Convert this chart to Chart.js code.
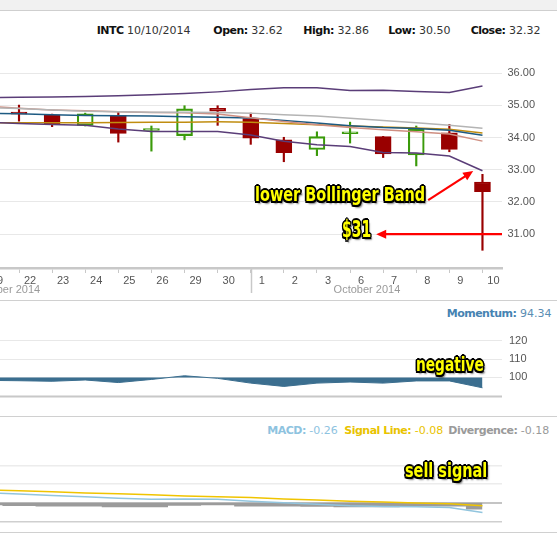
<!DOCTYPE html>
<html>
<head>
<meta charset="utf-8">
<script src="https://cdn.jsdelivr.net/npm/chart.js@4.4.1/dist/chart.umd.min.js"></script>
<style>
  body { margin: 0; width: 557px; height: 535px; background: #fff; position: relative; overflow: hidden;
         font-family: 'DejaVu Sans', Verdana, sans-serif; font-size: 11px; color: #333; }
  .topband { position: absolute; left: 0; top: 0; width: 557px; height: 10px; background: #f1f1f1; border-bottom: 1px solid #cfcfcf; }
  .rule { position: absolute; left: 0; width: 557px; height: 0; border-top: 1px solid #d0d0d0; }
  .hd { position: absolute; white-space: nowrap; line-height: 13px; }
  .hd b { letter-spacing: -0.5px; color: #111; }
  canvas { position: absolute; left: 0; }
  .note { position: absolute; white-space: nowrap; color: #ffff00; line-height: 1; transform-origin: 0 0;
          font-family: 'Liberation Sans Narrow', 'DejaVu Sans Condensed', 'Liberation Sans', sans-serif; font-weight: bold;
          text-shadow: -2px 0 #000, 2px 0 #000, 0 -2px #000, 0 2px #000, -1.5px -1.5px #000, 1.5px -1.5px #000,
                       -1.5px 1.5px #000, 1.5px 1.5px #000, 2.5px 2.5px 2px rgba(0,0,0,0.5); }
</style>
</head>
<body>
<div class="topband"></div>

<div class="hd" style="left:96.7px;top:24px"><b>INTC</b> 10/10/2014</div>
<div class="hd" style="left:213.3px;top:24px"><b>Open:</b> 32.62</div>
<div class="hd" style="left:303.3px;top:24px"><b>High:</b> 32.86</div>
<div class="hd" style="left:388.3px;top:24px"><b>Low:</b> 30.50</div>
<div class="hd" style="left:470.7px;top:24px"><b>Close:</b> 32.32</div>

<canvas id="priceChart" width="557" height="255" style="top:45px"></canvas>

<div class="rule" style="top:300px"></div>
<div class="hd" style="left:446.7px;top:307px;color:#5a8db3"><b style="color:#4683b2">Momentum:</b> 94.34</div>
<canvas id="momentumChart" width="557" height="92" style="top:318px"></canvas>

<div class="rule" style="top:416px"></div>
<div class="hd" style="left:267.3px;top:423.5px;color:#8ec3df"><b style="color:#8ec3df">MACD:</b> -0.26</div>
<div class="hd" style="left:344.3px;top:423.5px;color:#e9c300"><b style="color:#e9c300">Signal Line:</b> -0.08</div>
<div class="hd" style="left:448.3px;top:423.5px;color:#9a9a9a"><b style="color:#9a9a9a">Divergence:</b> -0.18</div>
<canvas id="macdChart" width="557" height="96" style="top:436px"></canvas>
<div class="rule" style="top:532px"></div>

<div class="note" data-w="170" style="left:255px;top:185.4px;font-size:19px">lower Bollinger Band</div>
<div class="note" data-w="29" style="left:342px;top:218.2px;font-size:23px">$31</div>
<div class="note" data-w="68" style="left:416px;top:354px;font-size:20px">negative</div>
<div class="note" data-w="82" style="left:404.7px;top:460.6px;font-size:19px">sell signal</div>

<script>
// trading days, Sept 19 .. Oct 10 2014 (first one is just off the left edge)
const days = ['19', '22', '23', '24', '25', '26', '29', '30', '1', '2', '3', '6', '7', '8', '9', '10'];

// candles from Sept 22
const opens  = [34.78, 34.71, 34.38, 34.69, 34.22, 34.06, 34.91, 34.59, 33.93, 33.63, 34.12, 34.03, 33.46, 34.15, 32.62];
const highs  = [35.01, 34.73, 34.76, 34.79, 34.36, 34.99, 34.99, 34.76, 34.01, 34.18, 34.48, 34.04, 34.36, 34.41, 32.86];
const lows   = [34.51, 34.34, 34.36, 33.86, 33.58, 33.93, 34.38, 33.79, 33.25, 33.44, 33.83, 33.38, 33.12, 33.56, 30.50];
const closes = [34.73, 34.43, 34.74, 34.13, 34.24, 34.89, 34.82, 33.98, 33.53, 34.03, 34.14, 33.49, 34.26, 33.63, 32.32];

// overlays, one value per day in `days`
const upperBand = [35.24, 35.25, 35.26, 35.28, 35.30, 35.33, 35.37, 35.42, 35.49, 35.55, 35.55, 35.46, 35.47, 35.43, 35.40, 35.60];
const lowerBand = [34.48, 34.44, 34.41, 34.38, 34.27, 34.19, 34.19, 34.19, 34.08, 33.89, 33.78, 33.72, 33.54, 33.52, 33.43, 32.97];
const maBlue    = [34.76, 34.74, 34.71, 34.69, 34.68, 34.67, 34.65, 34.63, 34.61, 34.53, 34.45, 34.37, 34.31, 34.28, 34.23, 34.07];
const maGold    = [34.46, 34.46, 34.46, 34.46, 34.47, 34.48, 34.48, 34.49, 34.48, 34.44, 34.40, 34.36, 34.33, 34.30, 34.26, 34.14];
const maSalmon  = [34.98, 34.91, 34.86, 34.83, 34.80, 34.78, 34.77, 34.73, 34.62, 34.50, 34.40, 34.31, 34.24, 34.18, 34.11, 33.89];
const maGrey    = [34.93, 34.90, 34.86, 34.82, 34.80, 34.79, 34.79, 34.78, 34.76, 34.71, 34.67, 34.60, 34.53, 34.46, 34.38, 34.29];

const momentum   = [98.4, 98.2, 97.9, 98.6, 97.2, 98.9, 100.9, 99.5, 96.9, 95.1, 96.9, 97.5, 96.9, 98.1, 98.1, 94.34];
const macd       = [0.27, 0.23, 0.19, 0.16, 0.12, 0.09, 0.10, 0.09, 0.04, 0.00, -0.04, -0.08, -0.10, -0.11, -0.13, -0.26];
const signalLine = [0.34, 0.32, 0.29, 0.26, 0.24, 0.21, 0.18, 0.16, 0.14, 0.10, 0.07, 0.04, 0.02, -0.01, -0.03, -0.08];
const divergence = [-0.07, -0.09, -0.10, -0.10, -0.12, -0.12, -0.08, -0.07, -0.10, -0.10, -0.11, -0.12, -0.12, -0.10, -0.10, -0.18];

const priceTicks = [31, 32, 33, 34, 35, 36];
const momentumTicks = [100, 110, 120];
const macdGrid = [-0.5, -0.25, 0, 0.25, 0.5, 0.75, 1, 1.25];
const macdLabels = [1.25, 0.75, 0.25, -0.25];

const RED = '#990000';
const GREEN = '#3a9a0a';
const xMin = -0.574, xMax = 14.59;
const tickFont = { family: "'Liberation Sans', Arial, sans-serif", size: 11 };

Chart.defaults.animation = false;
Chart.defaults.plugins.legend.display = false;
Chart.defaults.plugins.tooltip.enabled = false;

const series = arr => arr.map((v, i) => ({ x: i - 1, y: v }));
const isUp = i => closes[i] >= opens[i];
const candleColor = ctx => isUp(ctx.dataIndex) ? GREEN : RED;

function overlay(arr, color) {
    return { type: 'line', data: series(arr), borderColor: color, borderWidth: 1.5, pointRadius: 0, tension: 0, order: 0 };
}

function drawArrow(ctx, x1, y1, x2, y2) {
    const a = Math.atan2(y2 - y1, x2 - x1);
    ctx.beginPath();
    ctx.moveTo(x1, y1);
    ctx.lineTo(x2 - 6 * Math.cos(a), y2 - 6 * Math.sin(a));
    ctx.stroke();
    ctx.beginPath();
    ctx.moveTo(x2, y2);
    ctx.lineTo(x2 - 10 * Math.cos(a) + 4.5 * Math.sin(a), y2 - 10 * Math.sin(a) - 4.5 * Math.cos(a));
    ctx.lineTo(x2 - 10 * Math.cos(a) - 4.5 * Math.sin(a), y2 - 10 * Math.sin(a) + 4.5 * Math.cos(a));
    ctx.closePath();
    ctx.fill();
}

// month separator, month names and the red arrows
const priceNotes = {
    id: 'priceNotes',
    afterDraw(chart) {
        const { ctx, scales: { x, y }, chartArea } = chart;
        ctx.save();
        ctx.strokeStyle = '#c8c8c8';
        ctx.lineWidth = 1.5;
        const sep = Math.round(x.getPixelForValue(7)) + 0.5;
        ctx.beginPath();
        ctx.moveTo(sep, chartArea.bottom);
        ctx.lineTo(sep, chartArea.bottom + 25);
        ctx.stroke();

        ctx.fillStyle = '#9a9a9a';
        ctx.font = "11px 'Liberation Sans', Arial, sans-serif";
        ctx.textAlign = 'center';
        ctx.textBaseline = 'middle';
        ctx.fillText('September 2014', x.getPixelForValue(-0.59), chartArea.bottom + 22);
        ctx.fillText('October 2014', x.getPixelForValue(10.51), chartArea.bottom + 22);

        ctx.strokeStyle = '#ff0000';
        ctx.fillStyle = '#ff0000';
        ctx.lineWidth = 2.2;
        drawArrow(ctx, x.getPixelForValue(12.36), y.getPixelForValue(32.06), x.getPixelForValue(13.72), y.getPixelForValue(32.96));
        drawArrow(ctx, chartArea.right, y.getPixelForValue(31.0), x.getPixelForValue(10.79), y.getPixelForValue(31.0));
        ctx.restore();
    }
};

new Chart(document.getElementById('priceChart'), {
    type: 'bar',
    data: {
        datasets: [
            overlay(upperBand, '#5a3d78'),
            overlay(lowerBand, '#5a3d78'),
            overlay(maGrey, '#b4b4b4'),
            overlay(maSalmon, '#cf8f82'),
            overlay(maBlue, '#1d5a82'),
            overlay(maGold, '#c08d10'),
            {
                // bodies
                data: opens.map((o, i) => ({ x: i, y: [o, closes[i]] })),
                backgroundColor: ctx => isUp(ctx.dataIndex) ? 'rgba(0,0,0,0)' : RED,
                borderColor: candleColor,
                borderWidth: 1.5,
                borderSkipped: false,
                barThickness: 16,
                minBarLength: 2,
                grouped: false,
                order: 1
            },
            {
                // upper wicks
                data: highs.map((h, i) => ({ x: i, y: [Math.max(opens[i], closes[i]), h] })),
                backgroundColor: candleColor,
                barThickness: 1.5,
                grouped: false,
                order: 2
            },
            {
                // lower wicks
                data: lows.map((l, i) => ({ x: i, y: [l, Math.min(opens[i], closes[i])] })),
                backgroundColor: candleColor,
                barThickness: 1.5,
                grouped: false,
                order: 2
            }
        ]
    },
    options: {
        responsive: false,
        layout: { padding: { top: 3, left: 0, right: 0, bottom: 0 } },
        scales: {
            x: {
                type: 'linear', min: xMin, max: xMax, offset: false,
                afterFit: s => { s.height = 32; s.paddingLeft = 0; s.paddingRight = 0; },
                afterBuildTicks: s => { s.ticks = days.map((d, i) => ({ value: i - 1 })); },
                grid: { offset: false, drawOnChartArea: false, drawTicks: true, tickLength: 5, color: '#c8c8c8' },
                border: { color: '#c8c8c8', width: 2.5 },
                ticks: { autoSkip: false, maxRotation: 0, labelOffset: 11, padding: 1, color: '#555', font: tickFont,
                         callback: v => days[v + 1] }
            },
            y: {
                position: 'right', min: 29.95, max: 36.5,
                afterFit: s => { s.width = 55; },
                afterBuildTicks: s => { s.ticks = priceTicks.map(v => ({ value: v })); },
                grid: { color: '#e8e8e8', drawTicks: false },
                border: { display: false },
                ticks: { padding: 5.5, color: '#555', font: tickFont, callback: v => v.toFixed(2) }
            }
        }
    },
    plugins: [priceNotes]
});

const bottomLine = {
    id: 'bottomLine',
    afterDraw(chart) {
        const { ctx, chartArea } = chart;
        ctx.save();
        ctx.strokeStyle = '#c8c8c8';
        ctx.lineWidth = 2;
        ctx.beginPath();
        ctx.moveTo(0, chartArea.bottom);
        ctx.lineTo(chartArea.right, chartArea.bottom);
        ctx.stroke();
        ctx.restore();
    }
};

new Chart(document.getElementById('momentumChart'), {
    type: 'line',
    data: {
        datasets: [{
            data: series(momentum),
            fill: { value: 100 },
            backgroundColor: '#3b6e8f',
            borderColor: '#3b6e8f',
            borderWidth: 1,
            pointRadius: 0,
            tension: 0
        }]
    },
    options: {
        responsive: false,
        layout: { padding: { top: 5, bottom: 1.7, left: 0, right: 0 } },
        scales: {
            x: { type: 'linear', min: xMin, max: xMax, display: false },
            y: {
                position: 'right', min: 89.65, max: 125,
                afterFit: s => { s.width = 55; },
                afterBuildTicks: s => { s.ticks = momentumTicks.map(v => ({ value: v })); },
                grid: { color: '#e8e8e8', drawTicks: false },
                border: { display: false },
                ticks: { padding: 7, color: '#555', font: tickFont }
            }
        }
    },
    plugins: [bottomLine]
});

new Chart(document.getElementById('macdChart'), {
    type: 'line',
    data: {
        datasets: [
            { data: series(divergence), stepped: 'middle', fill: 'origin', backgroundColor: '#9b9b9b', borderWidth: 0, pointRadius: 0, order: 2 },
            { data: series(macd), borderColor: '#92c5de', borderWidth: 1.5, pointRadius: 0, tension: 0, order: 1 },
            { data: series(signalLine), borderColor: '#f0c400', borderWidth: 1.5, pointRadius: 0, tension: 0, order: 0 }
        ]
    },
    options: {
        responsive: false,
        layout: { padding: { top: 5, bottom: 8, left: 0, right: 0 } },
        scales: {
            x: { type: 'linear', min: xMin, max: xMax, display: false },
            y: {
                position: 'right', min: -0.5, max: 1.5,
                afterFit: s => { s.width = 55; },
                afterBuildTicks: s => { s.ticks = macdGrid.map(v => ({ value: v })); },
                grid: {
                    drawTicks: false,
                    color: ctx => ctx.tick.value === 0 ? '#c4c4c4' : (ctx.tick.value === -0.5 ? '#cfcfcf' : '#ececec'),
                    lineWidth: ctx => ctx.tick.value === 0 ? 2 : 1.5
                },
                border: { display: false },
                ticks: { padding: 4, crossAlign: 'far', color: '#555', font: tickFont,
                         callback: v => macdLabels.includes(v) ? v.toFixed(2) : '' }
            }
        }
    }
});

// squeeze the callout texts to the width they have in the picture
document.querySelectorAll('.note').forEach(el => {
    el.style.transform = 'scaleX(' + (el.dataset.w / el.offsetWidth) + ')';
});
</script>
</body>
</html>
